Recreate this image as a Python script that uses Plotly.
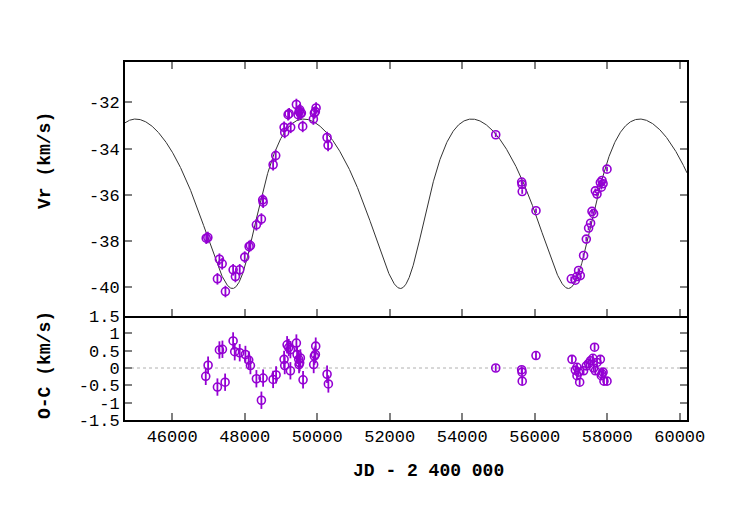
import numpy as np
import plotly.graph_objects as go
from plotly.subplots import make_subplots

# ---------------- data ----------------
rv_jd = [46940, 46985, 47249, 47304, 47380, 47470, 47682, 47745, 47864, 48002,
         48123, 48159, 48324, 48462, 48498, 48510, 48785, 48857, 49088, 49105,
         49270, 49198, 49226, 49427, 49474, 49501, 49537, 49565, 49520, 49601,
         49896, 49923, 49950, 49970, 50273, 50301,
         54925, 55640, 55650, 55655, 56035, 57009, 57120, 57166, 57210, 57257,
         57348, 57423, 57486, 57541, 57580, 57624, 57672, 57718, 57810, 57837,
         57856, 57885, 57994]
rv_val = [-37.88, -37.85, -39.64, -38.79, -38.99, -40.19, -39.25, -39.54, -39.25, -38.70,
          -38.24, -38.20, -37.30, -37.05, -36.22, -36.32, -34.70, -34.30, -33.08, -33.30,
          -33.08, -32.53, -32.49, -32.09, -32.53, -32.39, -32.49, -32.46, -32.32, -33.04,
          -32.72, -32.46, -32.40, -32.24, -33.52, -33.86,
          -33.40, -35.45, -35.55, -35.86, -36.69, -39.64, -39.70, -39.54, -39.28, -39.50,
          -38.63, -37.92, -37.44, -37.23, -36.72, -36.82, -35.83, -35.97, -35.47, -35.67,
          -35.38, -35.52, -34.89]
rv_err = [0.25] * 36 + [0.1] * 23

oc_jd = [46927, 46992, 47249, 47304, 47387, 47461, 47682, 47726, 47864, 48021,
         48112, 48159, 48324, 48462, 48509, 48785, 48867, 49088, 49105, 49171,
         49215, 49262, 49262, 49427, 49446, 49491, 49518, 49537, 49501, 49611,
         49904, 49923, 49951, 49960, 50273, 50309,
         54925, 55640, 55650, 55655, 56035, 57028, 57166, 57120, 57210, 57166,
         57240, 57348, 57423, 57486, 57541, 57605, 57624, 57651, 57672, 57718,
         57810, 57856, 57885, 57837, 57910, 57994]
oc_val = [-0.24, 0.08, -0.55, 0.52, 0.54, -0.41, 0.78, 0.47, 0.44, 0.39,
          0.23, 0.07, -0.31, -0.93, -0.29, -0.33, -0.20, 0.25, 0.07, 0.67,
          0.59, 0.53, -0.08, 0.72, 0.39, 0.25, 0.15, 0.29, 0.10, -0.34,
          0.10, 0.34, 0.39, 0.63, -0.18, -0.46,
          0.00, -0.05, -0.12, -0.38, 0.36, 0.25, 0.02, -0.06, -0.12, -0.22,
          -0.41, -0.08, 0.06, 0.13, 0.21, 0.28, 0.00, 0.60, -0.08, 0.16,
          0.25, -0.17, -0.12, -0.22, -0.38, -0.38]
oc_err = [0.25] * 36 + [0.1] * 26

# orbital elements of the fitted curve
period = 4633.0
t_peri = 47924.0
ecc = 0.22
omega_deg = 212.0
k_amp = 3.67
gamma = -35.705

x_ticks = [46000, 48000, 50000, 52000, 54000, 56000, 58000, 60000]
x_text = ["46000", "48000", "50000", "52000", "54000", "56000", "58000", "60000"]
y1_ticks = [-40, -38, -36, -34, -32]
y1_text = ["-40", "-38", "-36", "-34", "-32"]
y2_ticks = [-1.5, -1, -0.5, 0, 0.5, 1, 1.5]
y2_text = ["-1.5", "-1", "-0.5", "0", "0.5", "1", "1.5"]

# ---------------- model curve ----------------
t = np.linspace(44700, 60200, 2500)
M = 2 * np.pi * (t - t_peri) / period
E = M.copy()
for _ in range(50):
    E = E - (E - ecc * np.sin(E) - M) / (1 - ecc * np.cos(E))
nu = 2 * np.arctan2(np.sqrt(1 + ecc) * np.sin(E / 2), np.sqrt(1 - ecc) * np.cos(E / 2))
w = np.radians(omega_deg)
curve = gamma + k_amp * (np.cos(nu + w) + ecc * np.cos(w))

# ---------------- figure ----------------
PURPLE = "#9400D3"
FONT = "Liberation Mono"

fig = make_subplots(rows=2, cols=1, shared_xaxes=True, vertical_spacing=0)

fig.add_trace(go.Scatter(x=t, y=curve, mode="lines",
                         line=dict(color="#333333", width=1), showlegend=False,
                         hoverinfo="skip"), row=1, col=1)
fig.add_trace(go.Scatter(x=rv_jd, y=rv_val, mode="markers",
                         marker=dict(symbol="circle-open", size=8, color=PURPLE,
                                     line=dict(width=1.6, color=PURPLE)),
                         error_y=dict(type="data", array=rv_err, color=PURPLE,
                                      thickness=1.8, width=0),
                         showlegend=False), row=1, col=1)
fig.add_trace(go.Scatter(x=oc_jd, y=oc_val, mode="markers",
                         marker=dict(symbol="circle-open", size=8, color=PURPLE,
                                     line=dict(width=1.6, color=PURPLE)),
                         error_y=dict(type="data", array=oc_err, color=PURPLE,
                                      thickness=1.8, width=0),
                         showlegend=False), row=2, col=1)

axis_common = dict(showgrid=False, zeroline=False, showline=True, linecolor="black",
                   linewidth=2, ticks="inside", ticklen=7, tickwidth=1.5,
                   tickcolor="#808080",
                   tickfont=dict(family=FONT, size=17, color="black"))

fig.update_layout(
    width=750, height=525,
    margin=dict(l=125, r=63, t=62, b=105),
    paper_bgcolor="white", plot_bgcolor="white",
    xaxis=dict(range=[44700, 60200], tickvals=x_ticks, showticklabels=False,
               mirror="ticks", anchor="y", **axis_common),
    xaxis2=dict(range=[44700, 60200], tickvals=x_ticks, ticktext=x_text, mirror=False,
                anchor="y2", **axis_common),
    yaxis=dict(range=[-41.25, -30.25], tickvals=y1_ticks, ticktext=y1_text,
               domain=[0.2905, 1], mirror="ticks", **axis_common),
    yaxis2=dict(range=[-1.5, 1.5], tickvals=y2_ticks, ticktext=y2_text,
                domain=[0, 0.2905], mirror="ticks", **axis_common),
    shapes=[dict(type="line", xref="x2 domain", yref="y2", x0=0, x1=1, y0=0, y1=0,
                 line=dict(color="#b0b0b0", width=1, dash="dot"), layer="below")],
    annotations=[
        dict(text="Vr (km/s)", xref="paper", yref="paper", x=-0.1423, y=0.7235,
             textangle=-90, showarrow=False, xanchor="center", yanchor="middle",
             font=dict(family=FONT, size=18, color="black", weight="bold")),
        dict(text="O-C (km/s)", xref="paper", yref="paper", x=-0.1423, y=0.1536,
             textangle=-90, showarrow=False, xanchor="center", yanchor="middle",
             font=dict(family=FONT, size=18, color="black", weight="bold")),
        dict(text="JD - 2 400 000", xref="paper", yref="paper", x=0.5409, y=-0.142,
             showarrow=False, xanchor="center", yanchor="middle",
             font=dict(family=FONT, size=18, color="black", weight="bold")),
    ],
)

fig.write_html("out.html")
